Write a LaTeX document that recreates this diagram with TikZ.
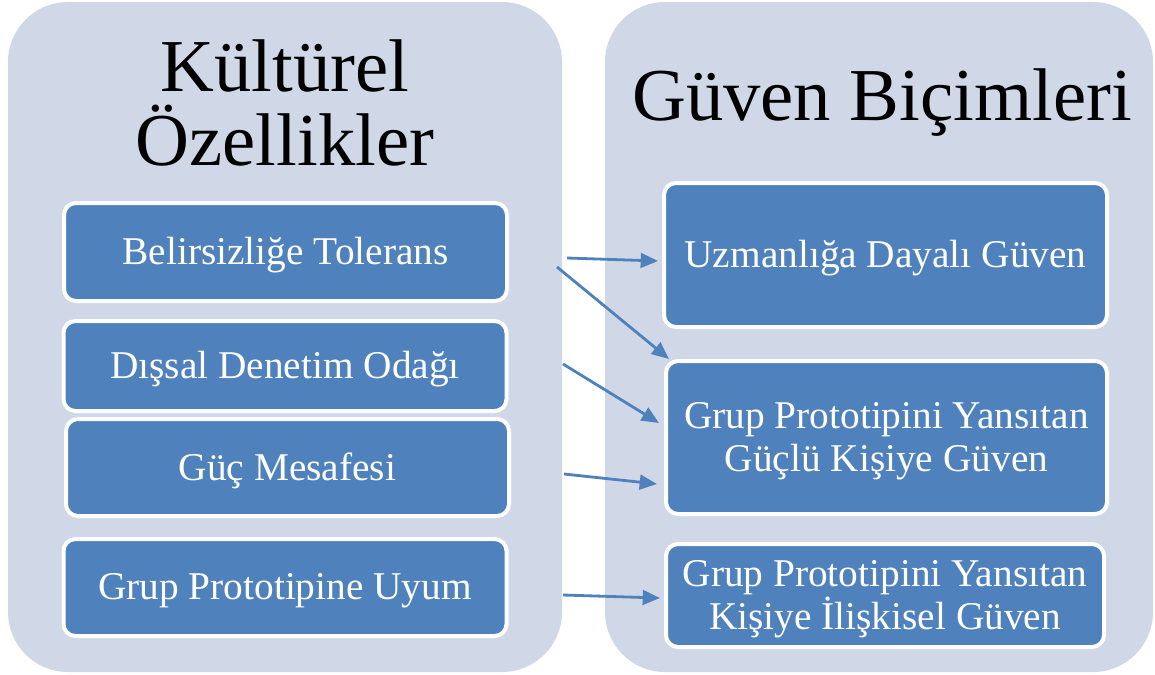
\documentclass[tikz,border=0pt]{standalone}
\usepackage{fontspec}
\setmainfont{Liberation Serif}
\usetikzlibrary{arrows.meta}
\definecolor{panelfill}{HTML}{D0D8E8}
\definecolor{boxfill}{HTML}{4F81BD}
\tikzset{
  panel/.style={fill=panelfill, draw=none, rounded corners=45pt},
  itembox/.style={rectangle, fill=boxfill, draw=white, line width=3pt, rounded corners=9pt,
    text=white, align=center, inner sep=0pt, text depth=1pt,
    font=\fontsize{29.5pt}{32pt}\selectfont},
  title/.style={align=center, inner sep=0pt, font=\fontsize{56pt}{56pt}\selectfont},
  link/.style={draw=boxfill, line width=2.1pt, -{Triangle[length=13pt,width=11pt]}}
}
\begin{document}
\begin{tikzpicture}[x=0.75pt,y=-0.75pt]
\useasboundingbox (0,0) rectangle (1155,674);
\fill[white] (0,0) rectangle (1155,674);
\begin{scope}
\clip (0,0) rectangle (1155,674);
\path[panel] (8,2) rectangle (562,672);
\path[panel] (605,2) rectangle (1153,672);
\end{scope}
\node[title] (t1) at (285,103) {Kültürel\\Özellikler};
\node[title] (t2) at (882,103) {Güven Biçimleri};
\node[itembox, minimum width=443pt*0.75, minimum height=98pt*0.75] (b1) at (285.5,252) {Belirsizliğe Tolerans};
\node[itembox, minimum width=443pt*0.75, minimum height=90pt*0.75] (b2) at (285,366) {Dışsal Denetim Odağı};
\node[itembox, minimum width=443pt*0.75, minimum height=97pt*0.75] (b3) at (287.5,467.5) {Güç Mesafesi};
\node[itembox, minimum width=443pt*0.75, minimum height=97pt*0.75] (b4) at (285,587.5) {Grup Prototipine Uyum};
\node[itembox, minimum width=443pt*0.75, minimum height=144pt*0.75] (r1) at (885.5,255) {Uzmanlığa Dayalı Güven};
\node[itembox, minimum width=441pt*0.75, minimum height=153pt*0.75] (r2) at (886.5,437.5) {Grup Prototipini Yansıtan\\Güçlü Kişiye Güven};
\node[itembox, minimum width=438pt*0.75, minimum height=103pt*0.75] (r3) at (885,595.5) {Grup Prototipini Yansıtan\\Kişiye İlişkisel Güven};
\coordinate (s1) at (567,258);
\coordinate (e1) at (658,261);
\coordinate (s2) at (557,267);
\coordinate (e2) at (669,359);
\coordinate (s3) at (563,364);
\coordinate (e3) at (659,423);
\coordinate (s4) at (564,474);
\coordinate (e4) at (657,484);
\coordinate (s5) at (563,595);
\coordinate (e5) at (660,598);
\draw[link] (s1) -- (e1);
\draw[link] (s2) -- (e2);
\draw[link] (s3) -- (e3);
\draw[link] (s4) -- (e4);
\draw[link] (s5) -- (e5);
\end{tikzpicture}
\end{document}
